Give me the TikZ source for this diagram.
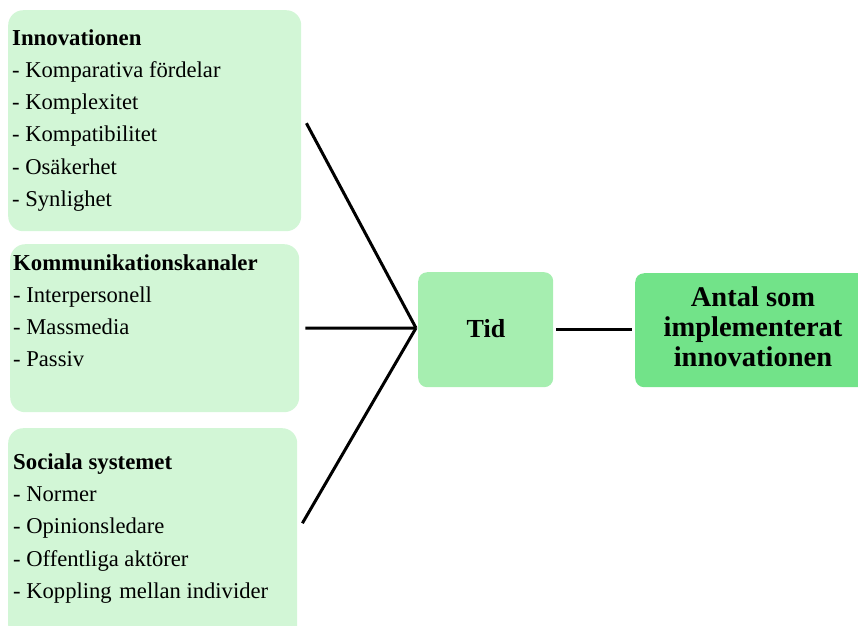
\documentclass[tikz,border=0pt]{standalone}
\usepackage{fontspec}
\setmainfont{Liberation Serif}
\usetikzlibrary{calc}
\definecolor{lightgr}{RGB}{210,246,214}
\definecolor{midgr}{RGB}{166,238,176}
\definecolor{darkgr}{RGB}{114,227,137}
\tikzset{
  bigbox/.style={draw=none,fill=lightgr,rounded corners=15pt,inner sep=0pt,anchor=north west},
  smallbox/.style={draw=none,rounded corners=9pt,inner sep=0pt,anchor=north west},
  itemtxt/.style={anchor=base west,inner sep=0pt,font=\fontsize{22.6}{26}\selectfont},
  headtxt/.style={anchor=base west,inner sep=0pt,font=\fontsize{22.8}{26}\selectfont\bfseries},
  bigtxt/.style={anchor=base,inner sep=0pt,font=\fontsize{28.5}{30}\selectfont\bfseries},
  conn/.style={line width=3pt,black}
}
\begin{document}
\begin{tikzpicture}[x=1pt,y=-1pt]
\useasboundingbox (0,0) rectangle (858,625);
% boxes
\node[bigbox,minimum width=293pt,minimum height=221pt] (b1) at (8,10) {};
\node[bigbox,minimum width=289pt,minimum height=168pt] (b2) at (10,244) {};
\node[bigbox,minimum width=289pt,minimum height=212pt] (b3) at (8,428) {};
\node[smallbox,fill=midgr,minimum width=135pt,minimum height=115pt] (tid) at (418,272) {};
\node[smallbox,fill=darkgr,minimum width=240pt,minimum height=114pt] (antal) at (635,273) {};
% texts box 1
\node[headtxt] (h1) at (12,45) {Innovationen};
\foreach \t [count=\i] in {Komparativa fördelar,Komplexitet,Kompatibilitet,Osäkerhet,Synlighet}
  \node[itemtxt] (a\i) at (12,{45+32.3*\i}) {- \t};
% texts box 2
\node[headtxt] (h2) at (13,270) {Kommunikationskanaler};
\foreach \t [count=\i] in {Interpersonell,Massmedia,Passiv}
  \node[itemtxt] (c\i) at (13,{270+32.3*\i}) {- \t};
% texts box 3
\node[headtxt] (h3) at (13,469.3) {Sociala systemet};
\foreach \t [count=\i] in {Normer,Opinionsledare,Offentliga aktörer,Koppling\hspace{2pt} mellan individer}
  \node[itemtxt] (s\i) at (13,{469.3+32.3*\i}) {- \t};
% Tid text
\node[anchor=base,inner sep=0pt,font=\fontsize{26}{30}\selectfont\bfseries] (tidt) at (486,337.3) {Tid};
% Antal text
\node[bigtxt] (an1) at (753,306) {Antal som};
\node[bigtxt] (an2) at (753,336) {implementerat};
\node[bigtxt] (an3) at (753,366) {innovationen};
% connectors
\coordinate (j) at (416,328);
\draw[conn] ([shift={(5,2.5)}]b1.east) -- (j);
\draw[conn] ([shift={(6,0)}]b2.east) -- (j);
\draw[conn] ([shift={(5,-11)}]b3.east) -- (j);
\draw[conn,shorten <=3pt,shorten >=3pt] (tid.east) -- (antal.west |- tid.east);
\end{tikzpicture}
\end{document}
